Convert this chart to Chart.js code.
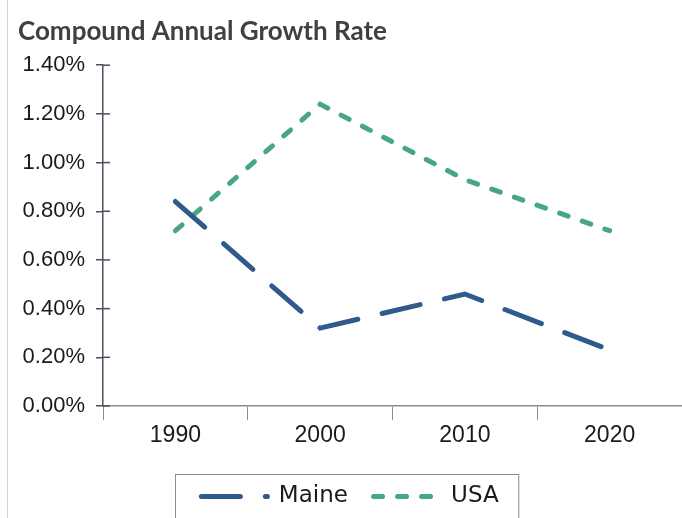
<!DOCTYPE html>
<html>
<head>
<meta charset="utf-8">
<script src="https://cdn.jsdelivr.net/npm/chart.js@4"></script>
<style>
  html, body { margin: 0; padding: 0; background: #fff; }
  #wrap { position: relative; width: 682px; height: 518px; }
  #edge { position: absolute; left: 7px; top: 0; width: 1px; height: 518px; background: #d4d4d4; }
</style>
</head>
<body>
<div id="wrap">
  <div id="edge"></div>
  <canvas id="chart" width="682" height="518"></canvas>
</div>
<script>
// --- Data ---
const years = ['1990', '2000', '2010', '2020'];
const maine = [0.84, 0.32, 0.46, 0.23];
const usa = [0.72, 1.24, 0.93, 0.72];

const labelFont = 'Liberation Sans';

// y ticks cross the axis, draw the inner half
const crossTicks = {
    id: 'crossTicks',
    afterDraw(chart) {
        const ctx = chart.ctx;
        const y = chart.scales.y;
        ctx.save();
        ctx.strokeStyle = '#4b5060';
        ctx.lineWidth = 1.5;
        y.ticks.forEach(t => {
            const py = y.getPixelForValue(t.value);
            ctx.beginPath();
            ctx.moveTo(y.right, py);
            ctx.lineTo(y.right + 7, py);
            ctx.stroke();
        });
        ctx.restore();
    }
};

// border round the legend
const legendFrame = {
    id: 'legendFrame',
    afterDraw(chart) {
        const lg = chart.legend;
        if (!lg || !lg.legendHitBoxes.length) return;
        const boxes = lg.legendHitBoxes;
        const left = Math.min(...boxes.map(b => b.left)) - 26;
        const right = Math.max(...boxes.map(b => b.left + b.width)) + 20;
        const ctx = chart.ctx;
        ctx.save();
        ctx.strokeStyle = '#8c8c8c';
        ctx.lineWidth = 1;
        ctx.strokeRect(Math.round(left) + 0.5, Math.round(lg.top) + 0.5, right - left, chart.height);
        ctx.restore();
    }
};

new Chart(document.getElementById('chart').getContext('2d'), {
    type: 'line',
    data: {
        labels: years,
        datasets: [{
            label: 'Maine',
            data: maine,
            borderColor: '#2f5a8b',
            backgroundColor: '#2f5a8b',
            borderWidth: 5,
            borderDash: [39, 25],
            borderCapStyle: 'round',
            pointRadius: 0,
            tension: 0
        }, {
            label: 'USA',
            data: usa,
            borderColor: '#47a588',
            backgroundColor: '#47a588',
            borderWidth: 5,
            borderDash: [9, 15],
            borderCapStyle: 'round',
            pointRadius: 0,
            tension: 0
        }]
    },
    options: {
        responsive: false,
        animation: false,
        layout: { padding: { left: 18, right: 0, top: 0, bottom: 0 } },
        scales: {
            x: {
                offset: true,
                grid: { offset: true, drawOnChartArea: false, tickLength: 14, color: '#8c8c8c', lineWidth: 1 },
                border: { color: '#8c8c8c', width: 1.5 },
                ticks: { color: '#1a1a1a', font: { family: labelFont, size: 23 }, padding: 2 },
                afterFit(scale) { scale.height = 68; }
            },
            y: {
                min: 0,
                max: 1.4,
                ticks: {
                    stepSize: 0.2,
                    color: '#1a1a1a',
                    font: { family: labelFont, size: 22 },
                    padding: 11,
                    callback: v => v.toFixed(2) + '%'
                },
                grid: { drawOnChartArea: false, tickLength: 7, color: '#4b5060', lineWidth: 1.5 },
                border: { color: '#4b5060', width: 1.5 },
                afterFit(scale) { scale.width = 85; }
            }
        },
        plugins: {
            title: {
                display: true,
                text: 'Compound Annual Growth Rate',
                align: 'start',
                color: '#404040',
                font: { family: 'Lato', size: 26, weight: 'bold' },
                padding: { top: 16, bottom: 18 }
            },
            legend: {
                position: 'bottom',
                labels: {
                    usePointStyle: true,
                    pointStyle: 'line',
                    pointStyleWidth: 66,
                    boxHeight: 5,
                    padding: 11,
                    color: '#1a1a1a',
                    font: { family: 'DejaVu Sans', size: 23 },
                    generateLabels(chart) {
                        const items = Chart.defaults.plugins.legend.labels.generateLabels(chart);
                        items.forEach((item, i) => {
                            const ds = chart.data.datasets[item.datasetIndex];
                            item.lineDash = ds.borderDash;
                            item.lineCap = 'round';
                            item.lineWidth = 5;
                            item.strokeStyle = ds.borderColor;
                            // extra room between entries
                            if (i < items.length - 1) item.text = item.text + '  ';
                        });
                        return items;
                    }
                }
            },
            tooltip: { enabled: false }
        }
    },
    plugins: [crossTicks, legendFrame]
});
</script>
</body>
</html>
